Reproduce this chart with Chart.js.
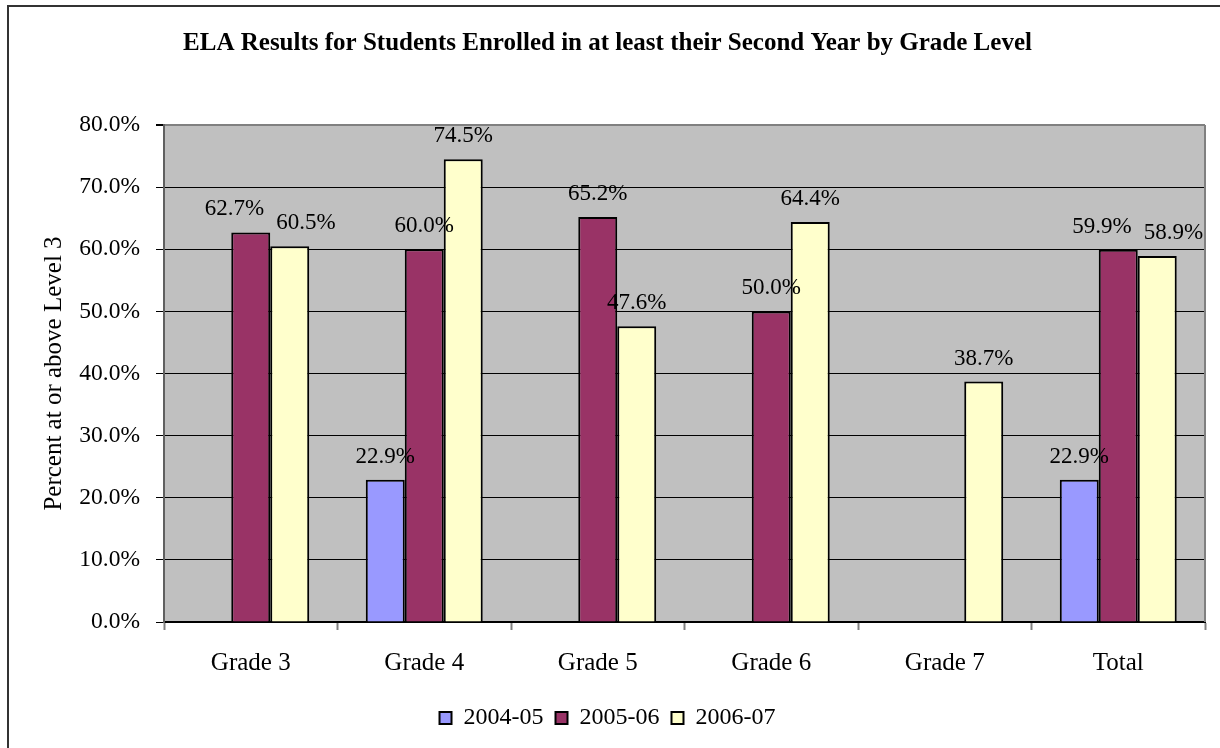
<!DOCTYPE html>
<html>
<head>
<meta charset="utf-8">
<script src="https://cdn.jsdelivr.net/npm/chart.js@4/dist/chart.umd.min.js"></script>
<style>
  html, body { margin: 0; padding: 0; background: #fff; }
  #wrap { position: relative; width: 1220px; height: 748px; }
</style>
</head>
<body>
<div id="wrap"><canvas id="c" width="1220" height="748"></canvas></div>
<script>
const categories = ['Grade 3', 'Grade 4', 'Grade 5', 'Grade 6', 'Grade 7', 'Total'];
const seriesNames = ['2004-05', '2005-06', '2006-07'];
const y2004 = [null, 22.9, null, null, null, 22.9];
const y2005 = [62.7, 60.0, 65.2, 50.0, null, 59.9];
const y2006 = [60.5, 74.5, 47.6, 64.4, 38.7, 58.9];
const yTicks = [0, 10, 20, 30, 40, 50, 60, 70, 80];

const ff = '"Liberation Serif", "Times New Roman", serif';
const colors = ['#9999ff', '#993366', '#ffffcc'];

// gray plot background + outer frame
const backdrop = {
    id: 'backdrop',
    beforeDraw(chart) {
        const { ctx, chartArea: a } = chart;
        ctx.save();
        ctx.fillStyle = '#c0c0c0';
        ctx.fillRect(a.left, a.top, a.right - a.left, a.bottom - a.top);
        ctx.strokeStyle = '#333';
        ctx.lineWidth = 2;
        ctx.beginPath();
        ctx.moveTo(8, 748);
        ctx.lineTo(8, 6);
        ctx.lineTo(1220, 6);
        ctx.stroke();
        ctx.restore();
    },
    afterDatasetsDraw(chart) {
        const { ctx, chartArea: a } = chart;
        ctx.save();
        ctx.strokeStyle = '#808080';
        ctx.lineWidth = 2;
        ctx.beginPath();
        ctx.moveTo(a.right, a.top);
        ctx.lineTo(a.right, a.bottom);
        ctx.stroke();
        ctx.restore();
    }
};

// value labels above bars, nudged apart when neighbours collide
const valueLabels = {
    id: 'valueLabels',
    afterDatasetsDraw(chart) {
        const { ctx } = chart;
        ctx.save();
        ctx.font = '23px ' + ff;
        ctx.fillStyle = '#000';
        ctx.textAlign = 'center';
        ctx.textBaseline = 'alphabetic';
        categories.forEach((cat, i) => {
            const items = [];
            chart.data.datasets.forEach((ds, d) => {
                const v = ds.data[i];
                if (v === null) return;
                const bar = chart.getDatasetMeta(d).data[i];
                const text = v.toFixed(1) + '%';
                items.push({ x: bar.x, y: bar.y - 17, text, w: ctx.measureText(text).width });
            });
            for (let k = 1; k < items.length; k++) {
                const p = items[k - 1], q = items[k];
                const overlap = (p.x + p.w / 2 + 12) - (q.x - q.w / 2);
                if (overlap > 0 && Math.abs(p.y - q.y) < 20) {
                    p.x -= overlap / 2;
                    q.x += overlap / 2;
                }
            }
            items.forEach(it => ctx.fillText(it.text, it.x, it.y));
        });
        ctx.restore();
    }
};

new Chart(document.getElementById('c'), {
    type: 'bar',
    data: {
        labels: categories,
        datasets: [
            { label: seriesNames[0], data: y2004, backgroundColor: colors[0] },
            { label: seriesNames[1], data: y2005, backgroundColor: colors[1] },
            { label: seriesNames[2], data: y2006, backgroundColor: colors[2] }
        ].map(d => ({ ...d, borderColor: '#000', borderWidth: 2, borderSkipped: 'bottom', categoryPercentage: 0.674, barPercentage: 1 }))
    },
    options: {
        responsive: false,
        animation: false,
        devicePixelRatio: 1,
        layout: { padding: { top: 0, left: 10, right: 15, bottom: 8 } },
        plugins: {
            title: {
                display: true,
                text: 'ELA Results for Students Enrolled in at least their Second Year by Grade Level',
                color: '#000',
                font: { family: ff, size: 25, weight: 'bold' },
                padding: { top: 29, bottom: 66 }
            },
            legend: {
                position: 'bottom',
                labels: {
                    color: '#000',
                    font: { family: ff, size: 24 },
                    boxWidth: 12, boxHeight: 12, padding: 12,
                    generateLabels(chart) {
                        return chart.data.datasets.map((ds, i) => ({
                            text: ds.label, fillStyle: ds.backgroundColor, strokeStyle: '#000',
                            lineWidth: 2, datasetIndex: i, fontColor: '#000'
                        }));
                    }
                }
            },
            tooltip: { enabled: false }
        },
        scales: {
            x: {
                grid: { display: true, drawOnChartArea: false, drawTicks: true, tickLength: 8, tickColor: '#808080', tickWidth: 2 },
                border: { color: '#000', width: 2 },
                ticks: { color: '#000', font: { family: ff, size: 25 }, padding: 18 },
                afterFit(scale) { scale.height = 72; }
            },
            y: {
                min: 0, max: 80,
                afterBuildTicks(scale) { scale.ticks = yTicks.map(v => ({ value: v })); },
                grid: {
                    color: c => (c.tick && c.tick.value === 80) ? '#808080' : '#000',
                    lineWidth: c => (c.tick && c.tick.value === 80) ? 2 : 1,
                    tickColor: '#000', tickLength: 8
                },
                border: { color: '#606060', width: 2 },
                ticks: { color: '#000', font: { family: ff, size: 23.5 }, padding: 16, callback: v => v.toFixed(1) + '%' },
                title: { display: true, text: 'Percent at or above Level 3', color: '#000', font: { family: ff, size: 25 }, padding: { top: 29 } },
                afterFit(scale) { scale.width = 154; }
            }
        }
    },
    plugins: [backdrop, valueLabels]
});
</script>
</body>
</html>
